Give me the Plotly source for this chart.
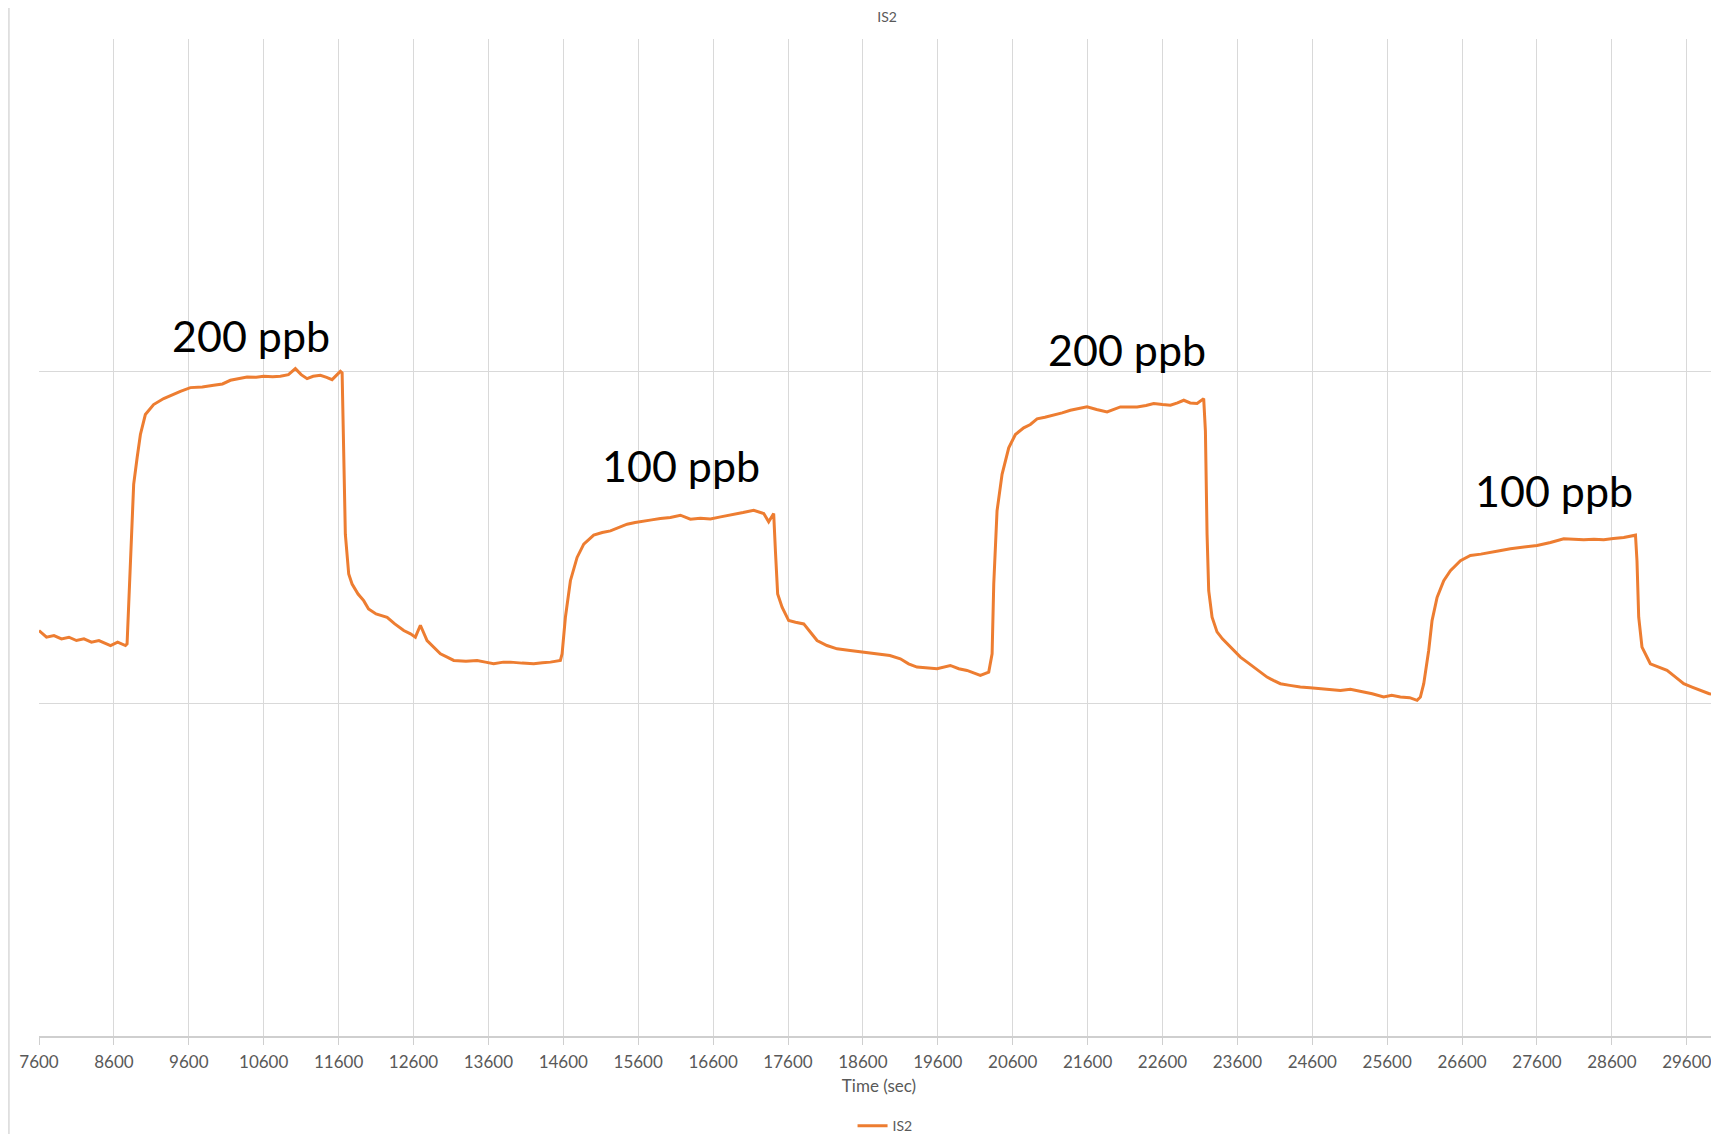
import plotly.graph_objects as go

# Time (sec) and signal (arbitrary units, grid lines at 0,1,2,3)
time_s = [7600, 7700, 7800, 7900, 8000, 8100, 8200, 8300, 8400, 8500, 8555, 8650, 8754, 8776,
          8800, 8820, 8864, 8910, 8954, 9020, 9130, 9265, 9380, 9488, 9621, 9780, 9932, 10050,
          10155, 10260, 10378, 10500, 10600, 10720, 10823, 10930, 11023, 11100, 11179, 11260,
          11357, 11440, 11513, 11580, 11624, 11647,
          11668, 11690, 11735, 11780, 11860, 11935, 12000, 12100, 12248, 12350, 12470, 12560,
          12625, 12692, 12781, 12870, 12959, 13050, 13137, 13300, 13449, 13560, 13670, 13800,
          13894, 14050, 14205, 14320, 14428, 14561, 14584,
          14628, 14695, 14784, 14873, 15006, 15120, 15229, 15340, 15452, 15560, 15673, 15780,
          15896, 16030, 16163, 16297, 16430, 16564, 16700, 16831, 17000, 17142, 17276, 17342, 17409,
          17432, 17462, 17521, 17609, 17700, 17810, 17900, 17988, 18120, 18255, 18430, 18610,
          18833, 18960, 19100, 19210, 19322, 19450, 19590, 19767, 19880, 19990, 20100, 20168,
          20280, 20325,
          20347, 20391, 20458, 20547, 20636, 20747, 20836, 20926, 21030, 21148, 21260, 21370,
          21480, 21593, 21720, 21860, 22038, 22150, 22261, 22380, 22483, 22600, 22706, 22800,
          22884, 22970, 23062, 23150,
          23173, 23195, 23217, 23262, 23328, 23400, 23462, 23550, 23640, 23730, 23818, 23900,
          23996, 24080, 24174, 24300, 24440, 24570, 24708, 24840, 24975, 25108, 25242, 25400,
          25553, 25660, 25776, 25900, 25999, 26043, 26088,
          26154, 26199, 26266, 26355, 26444, 26578, 26711, 26850, 26978, 27100, 27245, 27420,
          27601, 27780, 27957, 28090, 28224, 28360, 28491, 28620, 28758, 28915,
          28935, 28958, 29002, 29113, 29220, 29336, 29450, 29559, 29670, 29781, 29900, 30004]

is2 = [1.22, 1.20, 1.205, 1.195, 1.20, 1.19, 1.195, 1.185, 1.19, 1.18, 1.175, 1.185, 1.175, 1.18,
       1.30, 1.41, 1.66, 1.74, 1.81, 1.87, 1.90, 1.918, 1.93, 1.94, 1.951, 1.953, 1.958, 1.962,
       1.973, 1.978, 1.983, 1.982, 1.985, 1.984, 1.985, 1.99, 2.008, 1.99, 1.978, 1.985,
       1.988, 1.982, 1.975, 1.99, 2.0, 1.995,
       1.71, 1.51, 1.39, 1.36, 1.33, 1.31, 1.285, 1.27, 1.26, 1.24, 1.22, 1.21,
       1.20, 1.236, 1.19, 1.17, 1.15, 1.14, 1.13, 1.128, 1.13, 1.125, 1.12, 1.125,
       1.125, 1.122, 1.12, 1.123, 1.125, 1.13, 1.15,
       1.26, 1.37, 1.44, 1.48, 1.507, 1.515, 1.52, 1.53, 1.54, 1.545, 1.55, 1.553,
       1.557, 1.56, 1.567, 1.555, 1.558, 1.556, 1.562, 1.567, 1.575, 1.582, 1.572, 1.547, 1.572,
       1.46, 1.33, 1.29, 1.25, 1.245, 1.24, 1.215, 1.19, 1.175, 1.165, 1.16, 1.155,
       1.15, 1.145, 1.135, 1.12, 1.11, 1.108, 1.105, 1.115, 1.105, 1.10, 1.09, 1.085,
       1.095, 1.15,
       1.36, 1.58, 1.69, 1.77, 1.81, 1.83, 1.84, 1.857, 1.862, 1.868, 1.875, 1.883,
       1.888, 1.893, 1.885, 1.878, 1.893, 1.893, 1.893, 1.897, 1.903, 1.9, 1.898, 1.905,
       1.913, 1.905, 1.903, 1.918,
       1.82, 1.51, 1.34, 1.26, 1.216, 1.195, 1.18, 1.16, 1.14, 1.125, 1.11, 1.095,
       1.08, 1.07, 1.06, 1.055, 1.05, 1.048, 1.045, 1.043, 1.04, 1.043, 1.038, 1.03,
       1.02, 1.025, 1.02, 1.018, 1.01, 1.02, 1.06,
       1.16, 1.25, 1.32, 1.37, 1.40, 1.43, 1.446, 1.45, 1.456, 1.46, 1.466, 1.47,
       1.476, 1.485, 1.496, 1.495, 1.493, 1.495, 1.493, 1.497, 1.50, 1.507,
       1.43, 1.26, 1.17, 1.12, 1.11, 1.10, 1.08, 1.06, 1.05, 1.04, 1.03, 1.025]

x_ticks = list(range(7600, 30600, 1000))
y_grid = [0, 1, 2, 3]

label_text = ["200 ppb", "100 ppb", "200 ppb", "100 ppb"]
label_x = [10429, 16177, 22127, 27830]
label_y = [2.107, 1.718, 2.066, 1.641]

ORANGE = "#ED7D31"
GRID = "#d9d9d9"
TXT = "#595959"
FONT = "Lato, 'Open Sans', sans-serif"

fig = go.Figure()
fig.add_trace(go.Scatter(x=time_s, y=is2, mode="lines", name="IS2",
                         line=dict(color=ORANGE, width=3)))

for t, xx, yy in zip(label_text, label_x, label_y):
    fig.add_annotation(x=xx, y=yy, text=t, showarrow=False, xanchor="center", yanchor="middle",
                       font=dict(family=FONT, size=43, color="#000000"))

# outer chart border line on the left
fig.add_shape(type="line", xref="paper", yref="paper", x0=-0.0179, x1=-0.0179, y0=-0.12, y1=1.05,
              line=dict(color=GRID, width=1.5))

fig.update_layout(
    width=1711, height=1126,
    margin=dict(l=31, r=0, t=31, b=98, autoexpand=False),
    paper_bgcolor="white", plot_bgcolor="white",
    font=dict(family=FONT, color=TXT),
    title=dict(text="IS2", x=0.5048, xref="paper", yref="container", y=1 - 9 / 1126,
               yanchor="middle", xanchor="center", font=dict(family=FONT, size=14, color=TXT)),
    showlegend=True,
    legend=dict(orientation="h", x=0.5036, xanchor="center", y=-0.0905, yanchor="middle",
                font=dict(family=FONT, size=14, color=TXT), itemwidth=30),
    xaxis=dict(range=[7600, 30030], tickmode="array", tickvals=x_ticks, automargin=False,
               ticktext=[str(v) for v in x_ticks], showgrid=True, gridcolor=GRID, gridwidth=1,
               showline=True, linecolor="#cfcfcf", linewidth=1.5, ticks="outside", ticklen=7,
               tickcolor="#cfcfcf", tickfont=dict(family=FONT, size=17, color=TXT),
               ticklabelstandoff=3, zeroline=False,
               title=dict(text="Time (sec)", font=dict(family=FONT, size=17, color=TXT), standoff=9)),
    yaxis=dict(range=[0, 3], tickmode="array", tickvals=y_grid, showticklabels=False,
               automargin=False, showgrid=True, gridcolor=GRID, gridwidth=1, zeroline=False,
               showline=False, ticks=""),
)

fig.write_html("out.html")
